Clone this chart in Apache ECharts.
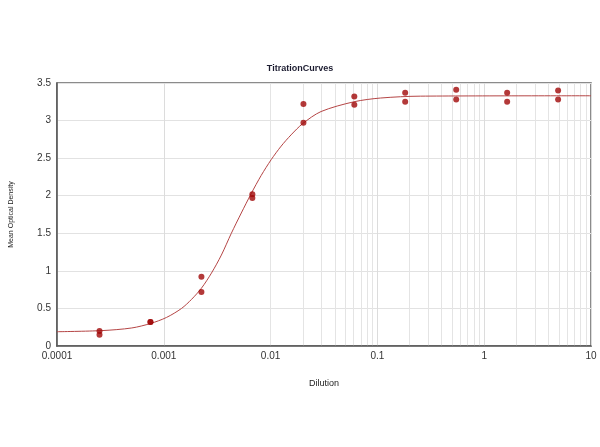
<!DOCTYPE html>
<html>
<head>
<meta charset="utf-8">
<script src="https://cdn.jsdelivr.net/npm/echarts@6/dist/echarts.min.js"></script>
<style>
html,body{margin:0;padding:0;background:#fff;}
#c{width:600px;height:447px;}
</style>
</head>
<body>
<div id="c"></div>
<script>
// Data
var dilutions = [0.00025, 0.00075, 0.00225, 0.00675, 0.0203, 0.0608, 0.182, 0.547, 1.64, 4.92];
var replicate1 = [0.20, 0.32, 0.92, 2.02, 3.22, 3.32, 3.37, 3.41, 3.37, 3.40];
var replicate2 = [0.15, 0.32, 0.72, 1.97, 2.97, 3.21, 3.25, 3.28, 3.25, 3.28];

// Fitted curve, points
var curveX = [0.0001, 0.000263, 0.000501, 0.000753, 0.00106, 0.001466, 0.001817, 0.002253, 0.002793, 0.00346, 0.004289, 0.005316, 0.00659, 0.008166, 0.01013, 0.01256, 0.01556, 0.0200, 0.02965, 0.0603, 0.107, 0.254, 10];
var curveY = [0.19, 0.205, 0.24, 0.30, 0.38, 0.50, 0.62, 0.77, 0.97, 1.21, 1.50, 1.77, 2.03, 2.27, 2.48, 2.66, 2.81, 2.96, 3.12, 3.25, 3.30, 3.325, 3.33];

// Minor log grid positions (2..9 in each decade)
var minorGrid = [
  0.0002,0.0003,0.0004,0.0005,0.0006,0.0007,0.0008,0.0009,
  0.002,0.003,0.004,0.005,0.006,0.007,0.008,0.009,
  0.02,0.03,0.04,0.05,0.06,0.07,0.08,0.09,
  0.2,0.3,0.4,0.5,0.6,0.7,0.8,0.9,
  2,3,4,5,6,7,8,9
];

var pts1 = dilutions.map(function(d,i){return [d, replicate1[i]];});
var pts2 = dilutions.map(function(d,i){return [d, replicate2[i]];});
var curve = curveX.map(function(d,i){return [d, curveY[i]];});

var font = 'Liberation Sans, Arial, sans-serif';
var chart = echarts.init(document.getElementById('c'));
chart.setOption({
  animation: false,
  backgroundColor: '#fff',
  title: {
    text: 'TitrationCurves',
    left: 'center',
    top: 59,
    textStyle: {fontSize: 9, fontWeight: 'bold', color: '#1c1c30', fontFamily: font}
  },
  grid: {left: 55, right: 9, top: 83, bottom: 101, show: true, borderColor: '#666', borderWidth: 1.5, backgroundColor: '#fff'},
  xAxis: {
    type: 'log',
    logBase: 10,
    min: 0.0001,
    max: 10,
    name: 'Dilution',
    nameLocation: 'middle',
    nameGap: 33,
    nameTextStyle: {fontSize: 9, color: '#222', fontFamily: font},
    axisLine: {show: true, lineStyle: {color: '#555', width: 1.5}},
    axisTick: {show: false},
    axisLabel: {fontSize: 10, color: '#333', fontFamily: font, margin: 5,
      formatter: function(v){ return String(+(+v).toPrecision(1)); }},
    splitLine: {show: true, lineStyle: {color: '#dcdcdc', width: 1}}
  },
  yAxis: {
    type: 'value',
    min: 0,
    max: 3.5,
    interval: 0.5,
    name: 'Mean Optical Density',
    nameLocation: 'middle',
    nameRotate: 90,
    nameGap: 42,
    nameTextStyle: {fontSize: 7, color: '#222', fontFamily: font},
    axisLine: {show: true, lineStyle: {color: '#555', width: 1.5}},
    axisTick: {show: false},
    axisLabel: {fontSize: 10, color: '#333', fontFamily: font, margin: 6},
    splitLine: {show: true, lineStyle: {color: '#e2e2e2', width: 1}}
  },
  series: [
    {
      type: 'line',
      data: [],
      silent: true,
      z: 0,
      markLine: {
        silent: true,
        z: 0,
        symbol: 'none',
        label: {show: false},
        lineStyle: {color: '#e4e4e4', width: 1, type: 'solid'},
        data: minorGrid.map(function(v){return {xAxis: v};})
      }
    },
    {
      type: 'line',
      data: curve,
      smooth: 0.3,
      showSymbol: false,
      lineStyle: {color: '#b54545', width: 1},
      z: 8
    },
    {
      type: 'scatter',
      data: pts1,
      symbolSize: 6,
      itemStyle: {color: '#a00808'},
      z: 10
    },
    {
      type: 'scatter',
      data: pts2,
      symbolSize: 6,
      itemStyle: {color: '#a00808'},
      z: 10
    }
  ]
});
</script>
</body>
</html>
